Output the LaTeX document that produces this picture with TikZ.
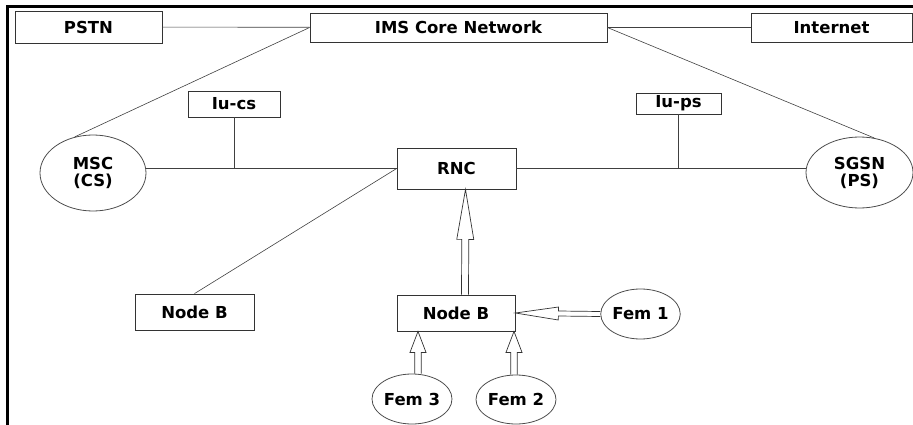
\documentclass[tikz,border=0pt]{standalone}
\usepackage{fontspec}
\setmainfont{DejaVu Sans}
\usetikzlibrary{positioning, arrows.meta, shapes.geometric, calc}

\begin{document}
\begin{tikzpicture}[x=1pt, y=-1pt, line width=0.8pt, font=\fontsize{16.5}{17}\selectfont\bfseries]
	\tikzstyle{box}=[draw=black!80, rectangle, inner sep=0pt]
	\tikzstyle{station}=[draw=black!70, ellipse, inner sep=0pt, align=center]
	\tikzstyle{link}=[draw=black!75, line width=0.6pt]
	\tikzstyle{shaft}=[draw=black!80, line width=0.7pt]
	
	\useasboundingbox (0,0) rectangle (913,425);
	
	% Frame
	\draw[line width=3pt] (7,425) -- (7,7) -- (913,7);
	
	% Top row
	\node[box, minimum width=147pt, minimum height=32pt] (pstn) at (88.5,27) {PSTN};
	\node[box, minimum width=297pt, minimum height=29pt] (ims) at (458.5,27.5) {IMS Core Network};
	\node[box, minimum width=161pt, minimum height=29pt] (inet) at (831.5,27.5) {Internet};
	
	% Interfaces
	\node[box, minimum width=92pt, minimum height=26pt] (iucs) at (234,104) {Iu-cs};
	\node[box, minimum width=85pt, minimum height=21pt] (iups) at (678.5,103.5) {Iu-ps};
	
	% Core side
	\node[station, minimum width=106pt, minimum height=76pt] (msc) at (93,173) {MSC\\(CS)};
	\node[station, minimum width=107pt, minimum height=71pt] (sgsn) at (859.5,172.5) {SGSN\\(PS)};
	\node[box, minimum width=119pt, minimum height=41pt] (rnc) at (456.5,168.5) {RNC};
	
	% Access side
	\node[box, minimum width=119pt, minimum height=36pt] (nbl) at (194.5,312) {Node B};
	\node[box, minimum width=118pt, minimum height=36pt] (nbc) at (456,313) {Node B};
	
	% Femtocells
	\node[station, minimum width=79pt, minimum height=50pt] (fem1) at (640.5,314) {Fem 1};
	\node[station, minimum width=80pt, minimum height=49pt] (fem2) at (516,399.5) {Fem 2};
	\node[station, minimum width=80pt, minimum height=50pt] (fem3) at (412,399) {Fem 3};
	
	% Links
	\draw[link] (pstn) -- (ims);
	\draw[link] (ims) -- (inet);
	\draw[link] (ims.west) -- (msc.117);
	\draw[link] (ims.east) -- (sgsn.67);
	\draw[link] (rnc.west -| msc.east) -- (rnc.west);
	\draw[link] (rnc.east) -- (rnc.east -| sgsn.west);
	\draw[link] (iucs.south) -- (iucs.south |- rnc.west);
	\draw[link] (iups.south) -- (iups.south |- rnc.east);
	\draw[link] (rnc.west) -- (nbl.north);
	
	% Block arrows
	\coordinate (up-s) at ([xshift=9pt]nbc.north);
	\coordinate (up-e) at ([xshift=9pt]rnc.south);
	\coordinate (f3s) at ([xshift=6pt]fem3.north);
	\coordinate (f3e) at (f3s |- nbc.south);
	\coordinate (f2s) at ([xshift=-2pt]fem2.north);
	\coordinate (f2e) at (f2s |- nbc.south);
	
	% start / tip / head length / half head width / half shaft width
	\foreach \s/\e/\l/\w/\h in {up-s/up-e/50/8.5/3.5, fem1.west/nbc.east/43/6.5/2.5, f3s/f3e/21/8/3.3, f2s/f2e/21/8/3.3}
	{
		\coordinate (hb) at ($(\e)!\l pt!(\s)$);
		\draw[shaft] ($(\s)!\h pt!90:(\e)$) -- ($(hb)!\h pt!-90:(\s)$) -- ($(hb)!\w pt!-90:(\s)$)
			-- (\e) -- ($(hb)!\w pt!90:(\s)$) -- ($(hb)!\h pt!90:(\s)$) -- ($(\s)!\h pt!-90:(\e)$);
	}
\end{tikzpicture}
\end{document}
